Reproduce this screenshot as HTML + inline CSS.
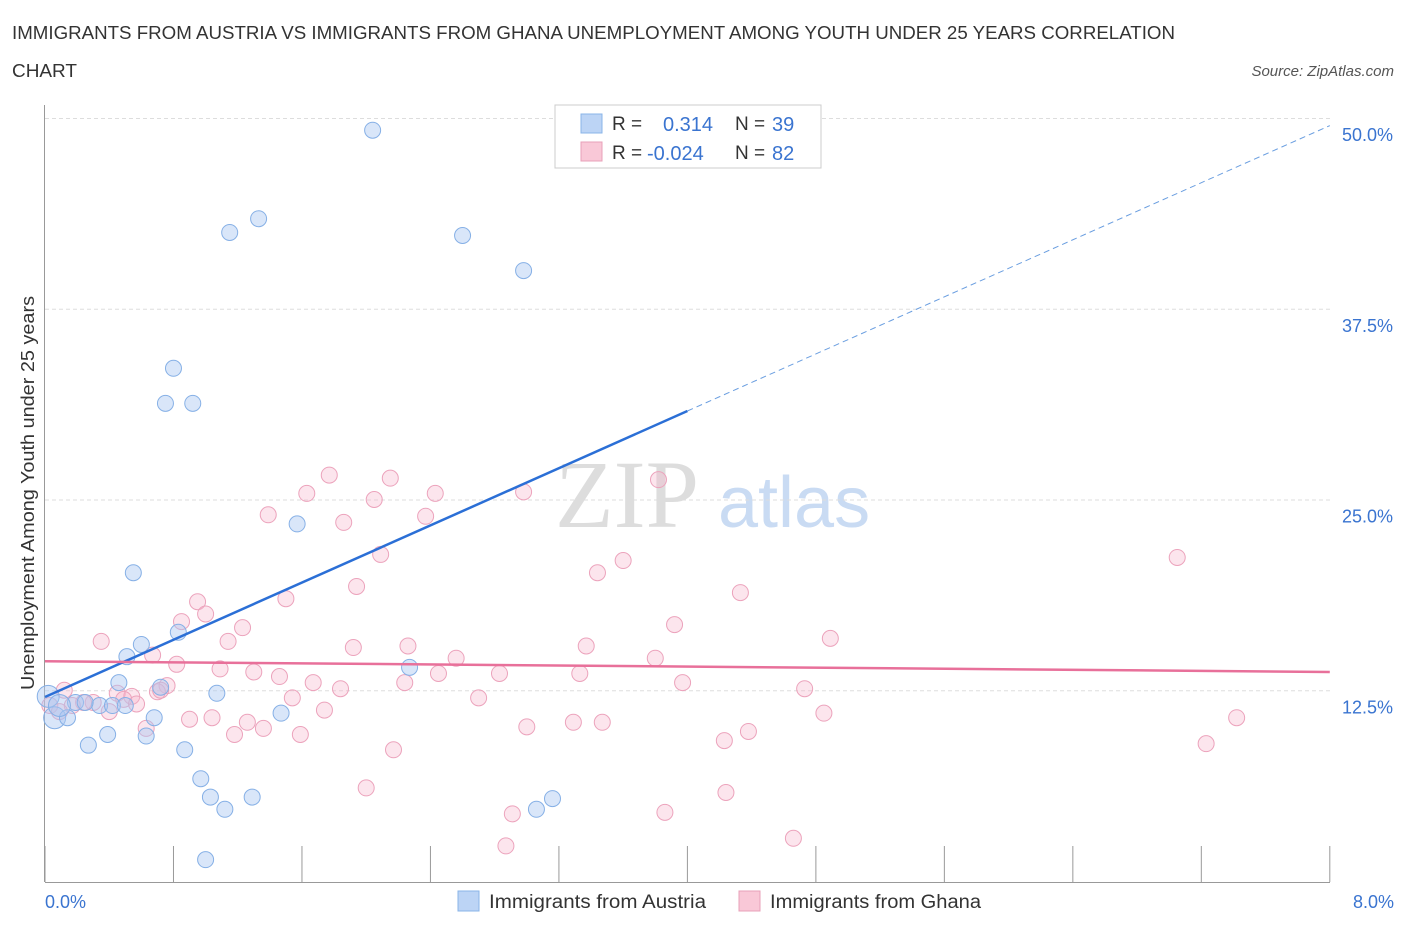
<!DOCTYPE html>
<html><head><meta charset="utf-8">
<style>
body{margin:0;background:#fff;font-family:"Liberation Sans",sans-serif;}
#wrap{position:relative;width:1406px;height:930px;overflow:hidden;}
</style></head>
<body>
<div id="wrap">
<svg id="svg" width="1406" height="930" xmlns="http://www.w3.org/2000/svg">
<text x="12" y="39" font-size="18" fill="#333" textLength="1163" lengthAdjust="spacingAndGlyphs">IMMIGRANTS FROM AUSTRIA VS IMMIGRANTS FROM GHANA UNEMPLOYMENT AMONG YOUTH UNDER 25 YEARS CORRELATION</text>
<text x="12" y="77" font-size="18" fill="#333" textLength="65" lengthAdjust="spacingAndGlyphs">CHART</text>
<text x="1394" y="76" font-size="15" fill="#555" font-style="italic" text-anchor="end">Source: ZipAtlas.com</text>
<text x="555" y="527" font-size="96" fill="#ddd" font-family="Liberation Serif,serif">ZIP</text>
<text x="718" y="527" font-size="72" fill="#c9dbf3">atlas</text>
<g id="grid"></g><g id="pts"></g><g id="lines"></g>
<text x="34" y="493" font-size="18" fill="#333" text-anchor="middle" textLength="394" lengthAdjust="spacingAndGlyphs" transform="rotate(-90 34 493)">Unemployment Among Youth under 25 years</text>
<text x="45" y="908" font-size="18" fill="#3a74d0">0.0%</text>
<text x="1394" y="908" font-size="18" fill="#3a74d0" text-anchor="end">8.0%</text>
<g>
<rect x="555" y="105" width="266" height="63" fill="#fff" stroke="#ccc"/>
<rect x="581" y="114" width="21" height="19" fill="#bcd4f5" stroke="#8ab4e8"/>
<rect x="581" y="142" width="21" height="19" fill="#f9c8d7" stroke="#e8a0b8"/>
<text x="612" y="130" font-size="19" fill="#333">R = </text><text x="663" y="131" font-size="20" fill="#3a74d0">0.314</text>
<text x="735" y="130" font-size="19" fill="#333">N = </text><text x="772" y="131" font-size="20" fill="#3a74d0">39</text>
<text x="612" y="159" font-size="19" fill="#333">R = </text><text x="647" y="160" font-size="20" fill="#3a74d0">-0.024</text>
<text x="735" y="159" font-size="19" fill="#333">N = </text><text x="772" y="160" font-size="20" fill="#3a74d0">82</text>
</g>
<g>
<rect x="458" y="891" width="21" height="20" fill="#bcd4f5" stroke="#8ab4e8"/>
<text x="489" y="908" font-size="19" fill="#333" textLength="217" lengthAdjust="spacingAndGlyphs">Immigrants from Austria</text>
<rect x="739" y="891" width="21" height="20" fill="#f9c8d7" stroke="#e8a0b8"/>
<text x="770" y="908" font-size="19" fill="#333" textLength="211" lengthAdjust="spacingAndGlyphs">Immigrants from Ghana</text>
</g>
</svg>
</div>
<script>
const yTicks=[12.5,25,37.5,50];
const yTickLabels=["12.5%","25.0%","37.5%","50.0%"];
const xTicks=[0,1,2,3,4,5,6,7,8,9,10];
const austriaX=[2.04,1.33,1.15,2.60,2.98,0.80,0.75,0.92,1.57,0.55,0.83,0.60,0.51,2.27,0.46,0.72,1.07,0.02,0.19,0.34,0.42,0.50,0.06,0.14,0.68,1.47,0.39,0.63,0.27,0.87,0.97,1.03,1.29,1.12,3.16,3.06,1.00,0.25,0.09];
const austriaY=[49.2,43.4,42.5,42.3,40.0,33.6,31.3,31.3,23.4,20.2,16.3,15.5,14.7,14.0,13.0,12.7,12.3,12.1,11.7,11.5,11.5,11.5,10.7,10.7,10.7,11.0,9.6,9.5,8.9,8.6,6.7,5.5,5.5,4.7,5.4,4.7,1.4,11.7,11.5];
const ghanaX=[1.77,2.15,1.63,2.43,2.98,3.82,2.05,1.39,1.86,2.37,2.09,7.05,3.60,3.44,1.94,4.33,1.50,0.95,1.00,0.85,3.92,1.23,0.35,4.89,1.14,3.37,2.26,1.92,0.67,2.56,0.82,3.80,1.09,1.30,1.46,2.45,2.83,3.33,3.97,1.67,2.24,0.76,1.84,4.73,0.12,0.70,0.45,0.54,0.49,1.54,2.70,0.30,0.24,0.57,0.17,0.03,0.40,1.74,4.85,0.90,1.04,1.26,3.29,3.47,7.42,1.36,3.00,0.63,1.18,1.59,4.38,4.23,7.23,2.17,2.00,4.24,2.91,3.86,4.66,2.87,0.72,0.09];
const ghanaY=[26.6,26.4,25.4,25.4,25.5,26.3,25.0,24.0,23.5,23.9,21.4,21.2,21.0,20.2,19.3,18.9,18.5,18.3,17.5,17.0,16.8,16.6,15.7,15.9,15.7,15.4,15.4,15.3,14.8,14.6,14.2,14.6,13.9,13.7,13.4,13.6,13.6,13.6,13.0,13.0,13.0,12.8,12.6,12.6,12.5,12.4,12.3,12.1,11.9,12.0,12.0,11.7,11.7,11.6,11.5,11.5,11.1,11.2,11.0,10.6,10.7,10.4,10.4,10.4,10.7,10.0,10.1,10.0,9.6,9.6,9.8,9.2,9.0,8.6,6.1,5.8,4.4,4.5,2.8,2.3,12.5,11.1];
const austriaTrend=[12.06,30.8,49.5];
const ghanaTrend=[14.4,13.7];
const NS="http://www.w3.org/2000/svg";
const X=v=>45+v*160.6, Y=v=>881-v*15.26;
function mk(t,a,p){const e=document.createElementNS(NS,t);for(const k in a)e.setAttribute(k,a[k]);p.appendChild(e);return e;}
const grid=document.getElementById('grid');
yTicks.forEach((t,i)=>{
 const l=mk('line',{x1:45,x2:1330,y1:Y(t)+0.5,y2:Y(t)+0.5,stroke:'#ddd','stroke-dasharray':'4,3'},grid);
 
 
 const tx=mk('text',{x:1393,y:Y(t)+23,'font-size':18,fill:'#3a74d0','text-anchor':'end'},grid);
 tx.textContent=yTickLabels[i];
 
 
});
const ax=mk('line',{x1:44.5,x2:44.5,y1:105,y2:882,stroke:'#999'},grid);


const xa=mk('line',{x1:45,x2:1330,y1:882.5,y2:882.5,stroke:'#999'},grid);


xTicks.forEach(t=>{const v=t*0.8;const l=mk('line',{x1:X(v),x2:X(v),y1:846,y2:882,stroke:'#999'},grid);
 
 });
const pts=document.getElementById('pts');
ghanaX.forEach((x,i)=>{const c=mk('circle',{cx:X(x),cy:Y(ghanaY[i]),r:8,fill:'rgba(246,180,202,0.35)',stroke:'#eca3bc','stroke-width':1},pts);
 
 });
austriaX.forEach((x,i)=>{const r=(x<0.1)?11:8;const c=mk('circle',{cx:X(x),cy:Y(austriaY[i]),r:r,fill:'rgba(170,200,242,0.45)',stroke:'#86b0e6','stroke-width':1},pts);
 
 });
const lines=document.getElementById('lines');
const b1=mk('line',{x1:X(0),y1:Y(austriaTrend[0]),x2:X(4),y2:Y(austriaTrend[1]),stroke:'#2b6fd6','stroke-width':2.5},lines);


const b2=mk('line',{x1:X(4),y1:Y(austriaTrend[1]),x2:X(8),y2:Y(austriaTrend[2]),stroke:'#6a9ee0','stroke-width':1,'stroke-dasharray':'6,4'},lines);


const g1=mk('line',{x1:X(0),y1:Y(ghanaTrend[0]),x2:X(8),y2:Y(ghanaTrend[1]),stroke:'#e8709a','stroke-width':2.5},lines);


</script>
</body></html>
